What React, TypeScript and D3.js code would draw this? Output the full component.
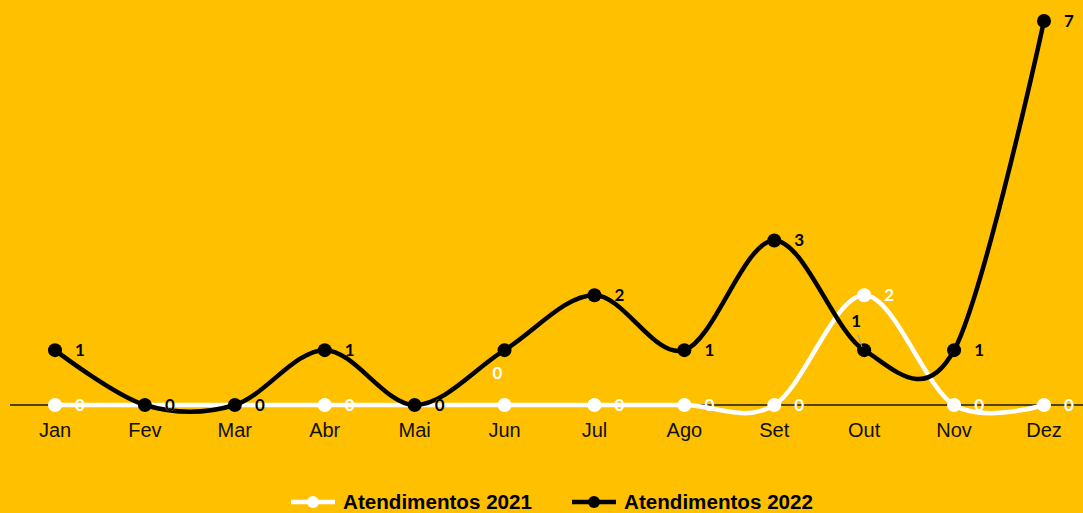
import React, { useEffect, useRef } from 'react';
import * as d3 from 'd3';

const months = ['Jan', 'Fev', 'Mar', 'Abr', 'Mai', 'Jun', 'Jul', 'Ago', 'Set', 'Out', 'Nov', 'Dez'];
const values2021 = [0, 0, 0, 0, 0, 0, 0, 0, 0, 2, 0, 0];
const values2022 = [1, 0, 0, 1, 0, 1, 2, 1, 3, 1, 1, 7];
const seriesNames = ['Atendimentos 2021', 'Atendimentos 2022'];

const W = 1083;
const H = 513;
const BG = '#FFC000';

const App = () => {
    const ref = useRef<SVGSVGElement | null>(null);

    useEffect(() => {
        const svg = d3.select(ref.current);
        svg.selectAll('*').remove();

        svg.append('rect').attr('width', W).attr('height', H).attr('fill', BG);

        const x = d3.scalePoint<string>().domain(months).range([55, 1044]);
        const y = d3.scaleLinear().domain([0, 7]).range([405, 21]);

        // category axis line
        svg.append('line')
            .attr('x1', 10).attr('x2', W)
            .attr('y1', y(0)).attr('y2', y(0))
            .attr('stroke', '#1a1a1a').attr('stroke-width', 1.5);

        svg.selectAll('.mlabel')
            .data(months)
            .enter()
            .append('text')
            .attr('x', d => x(d)!)
            .attr('y', 437)
            .attr('text-anchor', 'middle')
            .attr('font-family', 'Liberation Sans, Arial, sans-serif')
            .attr('font-size', 20)
            .attr('fill', '#111')
            .text(d => d);

        const line = d3.line<number>()
            .x((d, i) => x(months[i])!)
            .y(d => y(d))
            .curve(d3.curveCatmullRom.alpha(0));

        const series = [
            { name: seriesNames[0], values: values2021, color: '#FFFFFF' },
            { name: seriesNames[1], values: values2022, color: '#000000' },
        ];

        // label tweaks where the original chart moved or hid labels
        const labelShift: Record<string, [number, number]> = {
            '0-5': [-32, -32],
            '1-9': [-33, -29],
        };
        const hidden = new Set(['1-5']);

        series.forEach(s => {
            const g = svg.append('g');
            g.append('path')
                .attr('d', line(s.values))
                .attr('fill', 'none')
                .attr('stroke', s.color)
                .attr('stroke-width', 4.5);
            g.selectAll('circle')
                .data(s.values)
                .enter()
                .append('circle')
                .attr('cx', (d, i) => x(months[i])!)
                .attr('cy', d => y(d))
                .attr('r', 7)
                .attr('fill', s.color);
        });

        // leader line for moved label
        svg.append('line')
            .attr('x1', 858).attr('y1', 335)
            .attr('x2', 862).attr('y2', 347)
            .attr('stroke', '#9a9a9a').attr('stroke-width', 1);

        series.forEach((s, si) => {
            svg.append('g')
                .selectAll('text')
                .data(s.values.map((v, i) => ({ v, i })).filter(d => !hidden.has(`${si}-${d.i}`)))
                .enter()
                .append('text')
                .attr('x', d => x(months[d.i])! + 25 + (labelShift[`${si}-${d.i}`]?.[0] ?? 0))
                .attr('y', d => y(d.v) + 6 + (labelShift[`${si}-${d.i}`]?.[1] ?? 0))
                .attr('text-anchor', 'middle')
                .attr('font-family', 'Lato, Open Sans, sans-serif')
                .attr('font-weight', 'bold')
                .attr('font-size', 17)
                .attr('fill', s.color)
                .text(d => d.v);
        });

        // legend
        const legend = [
            { x: 291, name: seriesNames[0], color: '#FFFFFF' },
            { x: 572, name: seriesNames[1], color: '#000000' },
        ];
        legend.forEach(l => {
            const g = svg.append('g');
            g.append('line')
                .attr('x1', l.x).attr('x2', l.x + 44)
                .attr('y1', 502).attr('y2', 502)
                .attr('stroke', l.color).attr('stroke-width', 4.5);
            g.append('circle').attr('cx', l.x + 22).attr('cy', 502).attr('r', 6).attr('fill', l.color);
            g.append('text')
                .attr('x', l.x + 52)
                .attr('y', 509)
                .attr('font-family', 'Liberation Sans, Arial, sans-serif')
                .attr('font-weight', 'bold')
                .attr('font-size', 19.5)
                .attr('textLength', 189)
                .attr('lengthAdjust', 'spacingAndGlyphs')
                .attr('fill', '#000')
                .text(l.name);
        });
    }, []);

    return (
        <svg
            ref={ref}
            width={W}
            height={H}
            style={{ position: 'absolute', left: 0, top: 0 }}
        />
    );
};

export default App;
